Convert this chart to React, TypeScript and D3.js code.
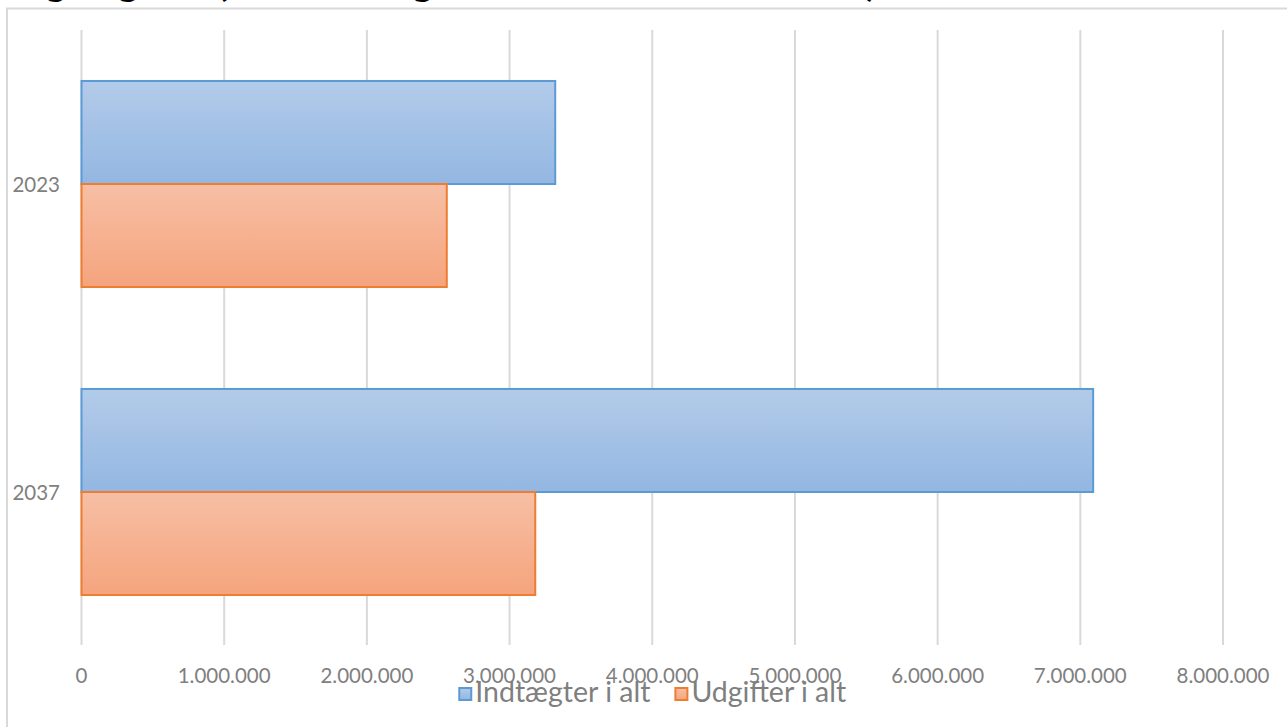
import React, { useEffect, useRef } from "react";
import * as d3 from "d3";

// Budget totals per year (kr.)
const categories = ["2023", "2037"];
const seriesNames = ["Indtægter i alt", "Udgifter i alt"];
const indtaegter = [3320000, 7090000];
const udgifter = [2560000, 3180000];
const xTickValues = [0, 1000000, 2000000, 3000000, 4000000, 5000000, 6000000, 7000000, 8000000];
const chartTitle = "Indtægter og udgifter (samlet budget for årene 2023 til 2037)";

const seriesStroke = ["#5b9bd5", "#ed7d31"];
const seriesTop = ["#b3cbe9", "#f7bfa5"];
const seriesBottom = ["#93b7e2", "#f5a47d"];

const W = 1287;
const H = 727;
const FONT = "Lato, 'Open Sans', sans-serif";
const TEXT_GRAY = "#7f7f7f";

export default function App() {
  const ref = useRef<SVGSVGElement>(null);

  useEffect(() => {
    const svg = d3.select(ref.current);
    svg.selectAll("*").remove();

    const daLocale = d3.formatLocale({
      decimal: ",",
      thousands: ".",
      grouping: [3],
      currency: ["", " kr."],
    });
    const fmt = daLocale.format(",");

    const x = d3.scaleLinear().domain([0, 8000000]).range([81.5, 1223]);
    const y = d3
      .scaleBand<string>()
      .domain(categories)
      .range([30, 646])
      .paddingInner(0.331)
      .paddingOuter(0.1655);
    const ySub = d3.scaleBand<number>().domain([0, 1]).range([0, y.bandwidth()]);

    svg.append("rect").attr("width", W).attr("height", H).attr("fill", "#ffffff");

    // gradients
    const defs = svg.append("defs");
    seriesNames.forEach((_, i) => {
      const g = defs
        .append("linearGradient")
        .attr("id", `grad${i}`)
        .attr("x1", 0)
        .attr("y1", 0)
        .attr("x2", 0)
        .attr("y2", 1);
      g.append("stop").attr("offset", "0%").attr("stop-color", seriesTop[i]);
      g.append("stop").attr("offset", "100%").attr("stop-color", seriesBottom[i]);
    });

    // outer chart frame
    svg
      .append("rect")
      .attr("x", 7)
      .attr("y", 8.5)
      .attr("width", W + 20)
      .attr("height", H + 20)
      .attr("fill", "none")
      .attr("stroke", "#d9d9d9")
      .attr("stroke-width", 2);

    // title (runs above the frame)
    const title = svg
      .append("text")
      .attr("x", 0)
      .attr("y", -4)
      .attr("font-family", FONT)
      .attr("font-weight", 700)
      .attr("font-size", 38)
      .attr("fill", "#000")
      .text(chartTitle);
    const tNode = title.node() as SVGTextElement;
    const gIdx = chartTitle.indexOf("udgifter") + 2;
    const gx = tNode.getStartPositionOfChar(gIdx).x;
    title.attr("x", 118 - gx);

    // vertical gridlines
    svg
      .append("g")
      .selectAll("line")
      .data(xTickValues)
      .join("line")
      .attr("x1", (d) => x(d))
      .attr("x2", (d) => x(d))
      .attr("y1", 30)
      .attr("y2", 645)
      .attr("stroke", "#d9d9d9")
      .attr("stroke-width", 2);

    // x tick labels
    svg
      .append("g")
      .selectAll("text")
      .data(xTickValues)
      .join("text")
      .attr("x", (d) => x(d))
      .attr("y", 683)
      .attr("text-anchor", "middle")
      .attr("font-family", FONT)
      .attr("font-size", 20.5)
      .attr("fill", TEXT_GRAY)
      .text((d) => fmt(d));

    // category labels
    svg
      .append("g")
      .selectAll("text")
      .data(categories)
      .join("text")
      .attr("x", 60)
      .attr("y", (d) => (y(d) as number) + y.bandwidth() / 2 + 7.5)
      .attr("text-anchor", "end")
      .attr("font-family", FONT)
      .attr("font-size", 20.5)
      .attr("fill", TEXT_GRAY)
      .text((d) => d);

    // bars
    const seriesValues = [indtaegter, udgifter];
    seriesValues.forEach((vals, si) => {
      svg
        .append("g")
        .selectAll("rect")
        .data(vals)
        .join("rect")
        .attr("x", x(0))
        .attr("y", (_, ci) => (y(categories[ci]) as number) + (ySub(si) as number))
        .attr("width", (d) => x(d) - x(0))
        .attr("height", ySub.bandwidth())
        .attr("fill", `url(#grad${si})`)
        .attr("stroke", seriesStroke[si])
        .attr("stroke-width", 2);
    });

    // legend
    const legend = svg.append("g");
    const sq = 14;
    const gapText = 3;
    const gapItem = 24;
    let cursor = 0;
    const items: { x: number; i: number; w: number }[] = [];
    seriesNames.forEach((name, i) => {
      const t = legend
        .append("text")
        .attr("font-family", FONT)
        .attr("font-size", 28.5)
        .attr("fill", TEXT_GRAY)
        .attr("y", 702)
        .text(name);
      const w = (t.node() as SVGTextElement).getComputedTextLength();
      items.push({ x: cursor, i, w });
      cursor += sq + gapText + w + (i < seriesNames.length - 1 ? gapItem : 0);
    });
    const center = (x(0) + x(8000000)) / 2;
    const start = center - cursor / 2;
    legend.selectAll<SVGTextElement, unknown>("text").each(function (_, k) {
      const it = items[k];
      d3.select(this).attr("x", start + it.x + sq + gapText);
    });
    items.forEach((it) => {
      legend
        .append("rect")
        .attr("x", start + it.x + 1)
        .attr("y", 688)
        .attr("width", sq - 2)
        .attr("height", sq - 2)
        .attr("fill", `url(#grad${it.i})`)
        .attr("stroke", seriesStroke[it.i])
        .attr("stroke-width", 2);
    });
  }, []);

  return (
    <svg
      ref={ref}
      width={W}
      height={H}
      style={{ position: "absolute", left: 0, top: 0, display: "block" }}
    />
  );
}
